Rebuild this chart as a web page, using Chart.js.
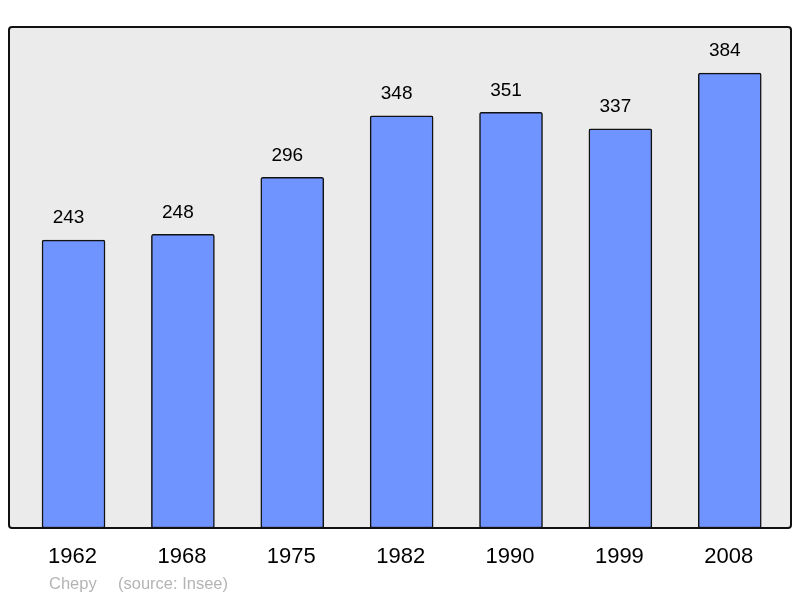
<!DOCTYPE html>
<html>
<head>
<meta charset="utf-8">
<script src="https://cdn.jsdelivr.net/npm/chart.js@4/dist/chart.umd.min.js"></script>
<style>
  html, body { margin: 0; padding: 0; background: #ffffff; }
  #wrap { width: 800px; height: 598px; }
</style>
</head>
<body>
<div id="wrap"><canvas id="popChart" width="800" height="598"></canvas></div>
<script>
// data
var years = ['1962', '1968', '1975', '1982', '1990', '1999', '2008'];
var population = [243, 248, 296, 348, 351, 337, 384];
var townName = 'Chepy';
var sourceText = '(source: Insee)';

var FONT = '"Liberation Sans", Arial, sans-serif';

// frame + grey background behind the bars
var framePlugin = {
  id: 'frame',
  beforeDatasetsDraw: function(chart) {
    var a = chart.chartArea, ctx = chart.ctx;
    ctx.save();
    ctx.fillStyle = '#ebebeb';
    ctx.fillRect(a.left, a.top, a.right - a.left, a.bottom - a.top);
    ctx.restore();
  },
  afterDatasetsDraw: function(chart) {
    var a = chart.chartArea, ctx = chart.ctx;
    ctx.save();
    ctx.strokeStyle = '#111111';
    ctx.lineWidth = 2;
    ctx.beginPath();
    ctx.roundRect(a.left, a.top, a.right - a.left, a.bottom - a.top, 3);
    ctx.stroke();
    ctx.restore();
  }
};

// value labels above bars, years below, footer text
var labelsPlugin = {
  id: 'labels',
  afterDraw: function(chart) {
    var ctx = chart.ctx;
    var meta = chart.getDatasetMeta(0);
    var xs = chart.scales.x;
    ctx.save();
    ctx.textAlign = 'center';
    ctx.textBaseline = 'middle';
    ctx.fillStyle = '#000000';
    meta.data.forEach(function(bar, i) {
      ctx.font = '19px ' + FONT;
      ctx.fillText(String(population[i]), bar.x - 5, bar.y - 22);
      ctx.font = '22px ' + FONT;
      ctx.fillText(years[i], xs.getPixelForValue(i) - 1, chart.chartArea.bottom + 29);
    });
    ctx.textAlign = 'left';
    ctx.fillStyle = '#b4b4b4';
    ctx.font = '16.5px ' + FONT;
    ctx.fillText(townName, 49, 584);
    ctx.fillText(sourceText, 118, 584);
    ctx.restore();
  }
};

var points = population.map(function(v, i) { return { x: i, y: v }; });

new Chart(document.getElementById('popChart').getContext('2d'), {
  type: 'bar',
  data: {
    datasets: [{
      data: points,
      backgroundColor: '#7094ff',
      borderColor: '#111111',
      borderWidth: 1.5,
      borderSkipped: false,
      borderRadius: 2,
      barThickness: 63
    }]
  },
  options: {
    responsive: false,
    animation: false,
    layout: { padding: { left: 9, top: 27, right: 9, bottom: 70 } },
    plugins: { legend: { display: false }, tooltip: { enabled: false } },
    scales: {
      x: { type: 'linear', min: -0.59, max: 6.56, offset: false, display: false },
      y: { min: 0, max: 423, display: false }
    }
  },
  plugins: [framePlugin, labelsPlugin]
});
</script>
</body>
</html>
